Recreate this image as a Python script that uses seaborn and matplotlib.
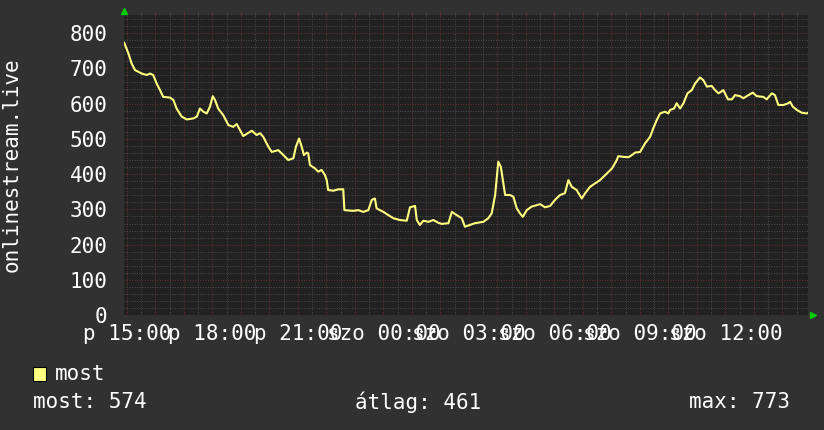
import numpy as np
import pandas as pd
import seaborn as sns
import matplotlib.pyplot as plt
from matplotlib.ticker import MultipleLocator, FuncFormatter
from matplotlib.patches import Rectangle

# hours counted from friday 15:00
hours = [-0.1, 0.05, 0.16, 0.28, 0.52, 0.69, 0.81, 0.92, 1.04, 1.16, 1.27, 1.51, 1.63, 1.74,
         1.92, 2.10, 2.33, 2.45, 2.56, 2.68, 2.80, 2.91, 3.01, 3.09, 3.20, 3.38, 3.56, 3.73,
         3.85, 4.08, 4.38, 4.55, 4.67, 4.78, 4.96, 5.08, 5.31, 5.49, 5.66, 5.84, 5.93, 6.04,
         6.13, 6.21, 6.31, 6.36, 6.42, 6.60, 6.71, 6.83, 6.95, 7.01, 7.06, 7.24, 7.42, 7.59,
         7.63, 7.94, 8.12, 8.29, 8.47, 8.59, 8.70, 8.76, 9.00, 9.17, 9.35, 9.58, 9.82, 9.93,
         10.11, 10.17, 10.28, 10.40, 10.58, 10.75, 10.93, 11.05, 11.28, 11.40, 11.57, 11.75,
         11.86, 12.04, 12.21, 12.51, 12.68, 12.80, 12.92, 12.98, 13.03, 13.12, 13.19, 13.27,
         13.44, 13.56, 13.68, 13.79, 13.89, 14.03, 14.20, 14.38, 14.50, 14.67, 14.85, 15.02,
         15.20, 15.37, 15.49, 15.61, 15.78, 15.96, 16.08, 16.25, 16.43, 16.60, 16.78, 17.02,
         17.19, 17.24, 17.42, 17.60, 17.72, 17.83, 18.01, 18.18, 18.36, 18.47, 18.59, 18.71,
         18.88, 19.00, 19.06, 19.20, 19.29, 19.41, 19.53, 19.67, 19.82, 19.94, 20.11, 20.23,
         20.35, 20.52, 20.64, 20.76, 20.93, 21.09, 21.23, 21.34, 21.52, 21.63, 21.81, 21.96,
         22.10, 22.33, 22.45, 22.63, 22.74, 22.86, 23.04, 23.21, 23.27, 23.37, 23.51, 23.68,
         23.86, 23.9]
values = [773, 742, 714, 695, 685, 681, 685, 681, 657, 638, 619, 617, 610, 586,
          563, 555, 558, 563, 586, 577, 572, 591, 621, 610, 586, 567, 539, 534,
          542, 508, 523, 511, 516, 506, 478, 463, 468, 454, 440, 445, 478, 501,
          478, 454, 461, 459, 426, 416, 407, 412, 397, 383, 355, 353, 357, 357,
          298, 296, 298, 293, 298, 327, 331, 303, 293, 284, 275, 270, 268, 306,
          310, 270, 256, 268, 265, 270, 262, 259, 261, 293, 284, 275,
          251, 256, 261, 265, 275, 289, 341, 393, 435, 421, 383, 341,
          341, 336, 303, 289, 279, 298, 308, 312, 315, 306, 310, 327,
          341, 346, 383, 364, 355, 331, 346, 364, 374, 383, 397, 416,
          440, 451, 449, 448, 454, 461, 463, 487, 506, 530, 553, 572,
          577, 572, 582, 586, 601, 586, 601, 629, 638, 657, 674, 666,
          648, 650, 638, 629, 638, 612, 612, 624, 621, 615, 624, 631,
          621, 619, 612, 629, 624, 596, 596, 601, 605, 591, 582, 574,
          572, 574]

tick_hours = [0, 3, 6, 9, 12, 15, 18, 21]
tick_labels = ["p 15:00", "p 18:00", "p 21:00", "szo 00:00", "szo 03:00",
               "szo 06:00", "szo 09:00", "szo 12:00"]
series_name = "most"
last_val, avg_val, max_val = 574, 461, 773

df = pd.DataFrame({"h": hours, "v": values})

sns.set_style("dark")
plt.rcParams["font.family"] = ["DejaVu Sans Mono"]

bg = "#313131"
plot_bg = "#212121"
yellow = "#ffff80"
red_grid = "#6a3030"
gray_grid = "#4c4c4c"

fig = plt.figure(figsize=(8.24, 4.30), dpi=100, facecolor=bg)
ax = fig.add_axes([124 / 824, (430 - 315.3) / 430, 684 / 824, 300.3 / 430])
ax.set_facecolor(plot_bg)

sns.lineplot(data=df, x="h", y="v", ax=ax, color=yellow, linewidth=1.5)

ax.set_xlim(-0.105, 23.9)
ax.set_ylim(0, 851)

ax.xaxis.set_major_locator(MultipleLocator(1))
ax.xaxis.set_minor_locator(MultipleLocator(0.5))
lab = dict(zip(tick_hours, tick_labels))
ax.xaxis.set_major_formatter(FuncFormatter(lambda x, p: lab.get(int(round(x)), "") if abs(x - round(x)) < 1e-6 else ""))
ax.yaxis.set_major_locator(MultipleLocator(100))
ax.yaxis.set_minor_locator(MultipleLocator(20))

ax.grid(which="major", color=red_grid, linestyle=(0, (1, 1.6)), linewidth=0.7)
ax.grid(which="minor", color=gray_grid, linestyle=(0, (1, 1.6)), linewidth=0.7)
ax.set_axisbelow(True)

ax.tick_params(axis="both", which="both", colors="white", labelsize=15, length=2)
ax.tick_params(axis="x", which="major", color=red_grid, pad=4)
ax.tick_params(axis="x", which="minor", color=gray_grid)
ax.tick_params(axis="y", which="major", color=red_grid, pad=10)
ax.tick_params(axis="y", which="minor", color=gray_grid)
ax.tick_params(top=True, which="both")
for t in ax.get_xticklabels() + ax.get_yticklabels():
    t.set_color("white")
for s in ax.spines.values():
    s.set_visible(False)
ax.set_xlabel("")
ax.set_ylabel("")

# rrd style axis arrows
ax.plot([0], [1.013], marker="^", color="#00cc00", markersize=5, transform=ax.transAxes, clip_on=False)
ax.plot([1.008], [0], marker=">", color="#00cc00", markersize=5, transform=ax.transAxes, clip_on=False)

fig.text(12 / 824, 1 - 165 / 430, "onlinestream.live", rotation=90, color="white",
         fontsize=15, ha="center", va="center")

# legend and stats
fig.patches.append(Rectangle((33 / 824, 1 - 381 / 430), 13 / 824, 14 / 430, transform=fig.transFigure,
                             facecolor=yellow, edgecolor="black", linewidth=0.8))
fig.text(55 / 824, 1 - 374 / 430, series_name, color="white", fontsize=15, va="center")
fig.text(33 / 824, 1 - 402 / 430, f"most: {last_val}", color="white", fontsize=15, va="center")
fig.text(355 / 824, 1 - 402 / 430, f"átlag: {avg_val}", color="white", fontsize=15, va="center")
fig.text(790 / 824, 1 - 402 / 430, f"max: {max_val}", color="white", fontsize=15, va="center", ha="right")

fig.savefig("out.png", dpi=100, facecolor=bg)
